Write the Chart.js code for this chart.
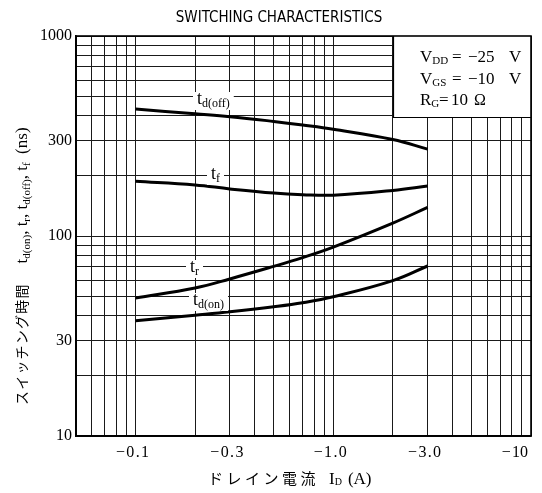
<!DOCTYPE html>
<html><head><meta charset="utf-8">
<script src="https://cdn.jsdelivr.net/npm/chart.js@4"></script>
<style>html,body{margin:0;padding:0;background:#fff}#wrap{width:542px;height:493px}</style>
</head><body><div id="wrap"><canvas id="c" width="542" height="493"></canvas></div>
<script>
// ---- data ----
const currentA = [0.1, 0.2, 0.3, 0.5, 0.7, 1.0, 2.0, 3.0];   // |I_D| (A)
const tdOff = [431, 408, 395, 374, 359, 342, 304, 272];
const tf    = [188, 180, 172, 164, 161, 160, 169, 178];
const tr    = [49, 55, 61, 70.5, 78, 88, 116, 139];
const tdOn  = [37.7, 40.2, 41.8, 44.3, 46.4, 49.7, 59.8, 70.8];
const xTickValues = [0.1, 0.3, 1.0, 3.0, 10];
const xTickText   = ['−\u200A0\u200A.\u200A1', '−\u200A0\u200A.\u200A3', '−\u200A1\u200A.\u200A0', '−\u200A3\u200A.\u200A0', '−\u200A10'];
const yTickValues = [10, 30, 100, 300, 1000];
const yTickText   = ['10', '30', '100', '300', '1000'];
const xRange = [0.05, 10];
const yRange = [10, 1000];
const titleText = 'SWITCHING CHARACTERISTICS';
const yTitleJa = 'スイッチング時間';
const xTitleJa = 'ドレイン電流';

const SERIF = '"Liberation Serif", "DejaVu Serif", serif';
const CJK = '"Noto Sans CJK JP", sans-serif';

function logGrid(min, max) {
  const out = [];
  for (let e = Math.floor(Math.log10(min)); e <= Math.ceil(Math.log10(max)); e++) {
    for (let m = 1; m <= 9; m++) {
      const v = Number((m * Math.pow(10, e)).toPrecision(6));
      if (v >= min - 1e-9 && v <= max + 1e-9) out.push(v);
    }
  }
  return out;
}
function labelFor(v, vals, texts) {
  for (let i = 0; i < vals.length; i++) if (Math.abs(vals[i] - v) / vals[i] < 1e-6) return texts[i];
  return '';
}
const pts = (ys) => currentA.map((x, i) => ({x, y: ys[i]}));

function richWidth(ctx, parts, size, subSize) {
  let w = 0;
  for (const [t, s] of parts) { ctx.font = (s ? subSize : size) + 'px ' + SERIF; w += ctx.measureText(t).width; }
  return w;
}
function drawRich(ctx, x, y, parts, size, subSize, subDy) {
  let cx = x;
  ctx.textBaseline = 'alphabetic';
  ctx.textAlign = 'left';
  for (const [t, s] of parts) {
    ctx.font = (s ? subSize : size) + 'px ' + SERIF;
    ctx.fillText(t, cx, y + (s ? subDy : 0));
    cx += ctx.measureText(t).width;
  }
  return cx;
}

const curveLabels = [
  {x: 197, y: 104, parts: [['t', false], ['d(off)', true]]},
  {x: 211, y: 179, parts: [['t', false], ['f', true]]},
  {x: 190, y: 272, parts: [['t', false], ['r', true]]},
  {x: 193, y: 305, parts: [['t', false], ['d(on)', true]]},
];

const decor = {
  id: 'decor',
  afterDatasetsDraw(chart) {
    const ctx = chart.ctx;
    const a = chart.chartArea;
    ctx.save();
    ctx.fillStyle = '#000';
    for (const L of curveLabels) {
      const w = richWidth(ctx, L.parts, 18, 12);
      ctx.fillStyle = '#fff';
      ctx.fillRect(L.x - 4, L.y - 12, w + 8, 18);
      ctx.fillStyle = '#000';
      drawRich(ctx, L.x, L.y, L.parts, 18, 12, 3);
    }
    // condition box
    const bx = 393, by = a.top, bw = a.right - 393, bh = 117 - a.top;
    ctx.fillStyle = '#fff';
    ctx.fillRect(bx, by, bw, bh);
    ctx.strokeStyle = '#000'; ctx.lineWidth = 1.2;
    ctx.beginPath(); ctx.moveTo(bx + 0.5, by); ctx.lineTo(bx + 0.5, by + bh + 0.5); ctx.lineTo(a.right, by + bh + 0.5); ctx.stroke();
    ctx.fillStyle = '#000';
    const rows = [
      {y: 62, main: 'V', sub: 'DD', eq: '=', num: '−25', unit: 'V'},
      {y: 84, main: 'V', sub: 'GS', eq: '=', num: '−10', unit: 'V'},
    ];
    for (const r of rows) {
      drawRich(ctx, 420, r.y, [[r.main, false], [r.sub, true]], 17, 11, 2);
      drawRich(ctx, 452, r.y, [[r.eq, false]], 17, 11, 2);
      drawRich(ctx, 468, r.y, [[r.num, false]], 17, 11, 2);
      drawRich(ctx, 509, r.y, [[r.unit, false]], 17, 11, 2);
    }
    drawRich(ctx, 420, 105, [['R', false], ['G', true]], 17, 11, 2);
    drawRich(ctx, 439, 105, [['=', false]], 17, 11, 2);
    drawRich(ctx, 451, 105, [['10', false]], 17, 11, 2);
    drawRich(ctx, 474, 105, [['Ω', false]], 16, 11, 2);
    // frame
    ctx.strokeStyle = '#000'; ctx.lineWidth = 1.6;
    ctx.strokeRect(a.left, a.top, a.right - a.left, a.bottom - a.top);
    ctx.restore();
  },
  afterDraw(chart) {
    const ctx = chart.ctx;
    ctx.save();
    ctx.fillStyle = '#000';
    ctx.font = '15px "Liberation Sans Narrow", "DejaVu Sans Condensed", sans-serif';
    ctx.textAlign = 'center'; ctx.textBaseline = 'alphabetic';
    ctx.fillText(titleText, 279, 22);
    // x title
    ctx.textAlign = 'left';
    ctx.font = '15px ' + CJK;
    let x = 208;
    for (const ch of xTitleJa) { ctx.fillText(ch, x, 484); x += 18.5; }
    x += 10;
    x = drawRich(ctx, x, 484, [['I', false], ['D', true]], 17, 10, 1);
    drawRich(ctx, x + 6, 484, [['(A)', false]], 17, 10, 1);
    // y title (rotated)
    ctx.translate(27, 405);
    ctx.rotate(-Math.PI / 2);
    ctx.font = '14px ' + CJK;
    ctx.textAlign = 'left';
    x = 0;
    for (const ch of yTitleJa) { ctx.fillText(ch, x, 0); x += 15.2; }
    x += 20;
    const parts = [['t', false], ['d(on)', true], [', t', false], ['r', true], [', t', false], ['d(off)', true], [', t', false], ['f', true], ['  (ns)', false]];
    drawRich(ctx, x, 0, parts, 17, 11, 3);
    ctx.restore();
  }
};

const line = (data) => ({
  data, borderColor: '#000', borderWidth: 3, pointRadius: 0, fill: false, tension: 0.4
});

new Chart(document.getElementById('c'), {
  type: 'line',
  data: { datasets: [line(pts(tdOff)), line(pts(tf)), line(pts(tr)), line(pts(tdOn))] },
  options: {
    responsive: false, animation: false, devicePixelRatio: 1,
    layout: { padding: { left: 0, top: 36, right: 11, bottom: 0 } },
    plugins: { legend: { display: false }, tooltip: { enabled: false }, title: { display: false } },
    scales: {
      x: {
        type: 'logarithmic', min: xRange[0], max: xRange[1],
        afterBuildTicks: (s) => { s.ticks = logGrid(xRange[0], xRange[1]).map(v => ({value: v})); },
        afterFit: (s) => { s.height = 57; s.paddingRight = 0; s.paddingLeft = 0; },
        grid: { color: '#1a1a1a', lineWidth: 1, drawTicks: false },
        border: { display: true, color: '#000', width: 1.6 },
        ticks: {
          autoSkip: false, maxRotation: 0, minRotation: 0, padding: 7, color: '#000',
          align: 'inner', labelOffset: -3,
          font: { family: SERIF, size: 16 },
          callback: (v, i, t) => labelFor(t[i].value, xTickValues, xTickText)
        }
      },
      y: {
        type: 'logarithmic', min: yRange[0], max: yRange[1],
        afterBuildTicks: (s) => { s.ticks = logGrid(yRange[0], yRange[1]).map(v => ({value: v})); },
        afterFit: (s) => { s.width = 76; s.paddingTop = 0; s.paddingBottom = 0; },
        grid: { color: '#1a1a1a', lineWidth: 1, drawTicks: false },
        border: { display: true, color: '#000', width: 1.6 },
        ticks: {
          autoSkip: false, padding: 4, color: '#000',
          font: { family: SERIF, size: 16 },
          callback: (v, i, t) => labelFor(t[i].value, yTickValues, yTickText)
        }
      }
    }
  },
  plugins: [decor]
});
</script></body></html>
